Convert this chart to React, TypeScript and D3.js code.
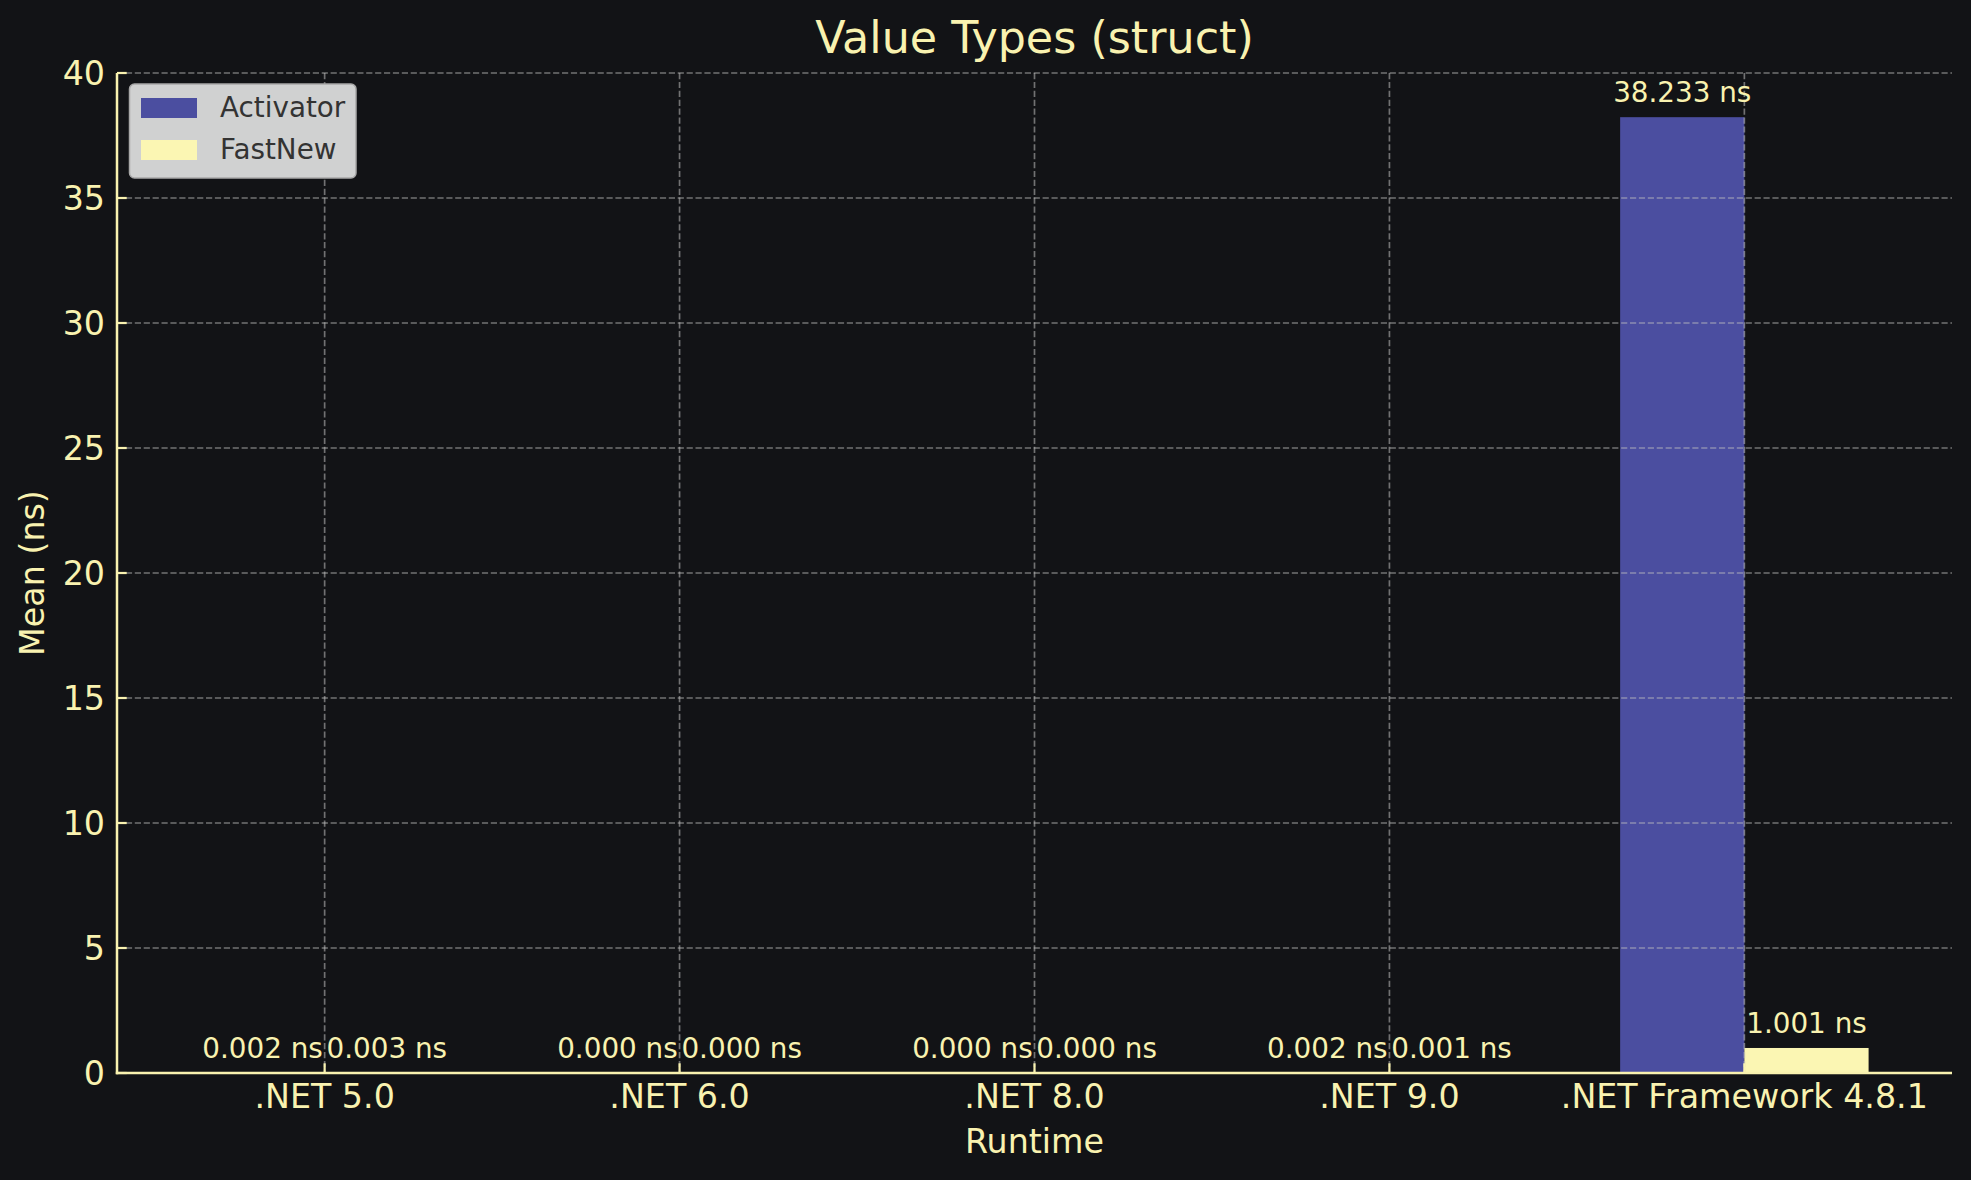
import React, { useEffect } from "react";
import * as d3 from "d3";

const categories = [".NET 5.0", ".NET 6.0", ".NET 8.0", ".NET 9.0", ".NET Framework 4.8.1"];
const seriesNames = ["Activator", "FastNew"];
const activator = [0.002, 0.0, 0.0, 0.002, 38.233];
const fastNew = [0.003, 0.0, 0.0, 0.001, 1.001];
const yTicks = [0, 5, 10, 15, 20, 25, 30, 35, 40];
const seriesColors = ["#4b4ea0", "#fbf6b3"];

const W = 1971;
const H = 1180;
const M = { left: 117, right: 1952, top: 73, bottom: 1073 };
const TEXT = "#f9f2b0";
const FONT = "DejaVu Sans, sans-serif";

export default function App() {
  useEffect(() => {
    document.body.style.margin = "0";
    document.body.style.background = "#121316";
  }, []);

  const barW = 0.35;
  const x = d3.scaleLinear().domain([-0.585, 4.585]).range([M.left, M.right]);
  const y = d3.scaleLinear().domain([0, 40]).range([M.bottom, M.top]);
  const series = [activator, fastNew];
  const offsets = [-barW / 2, barW / 2];

  return (
    <svg width={W} height={H} style={{ display: "block", background: "#121316" }} fontFamily={FONT}>
      <rect x={0} y={0} width={W} height={H} fill="#121316" />
      {/* bars */}
      {series.map((vals, si) =>
        vals.map((v, i) => {
          const cx = i + offsets[si];
          const x0 = x(cx - barW / 2);
          const x1 = x(cx + barW / 2);
          return (
            <rect key={`b${si}-${i}`} x={x0} y={y(v)} width={x1 - x0} height={y(0) - y(v)} fill={seriesColors[si]} />
          );
        })
      )}
      {/* grid */}
      {yTicks.map((t) => (
        <line key={`gy${t}`} x1={M.left} x2={M.right} y1={y(t)} y2={y(t)} stroke="#c0c0c0" strokeOpacity={0.55} strokeWidth={1.7} strokeDasharray="6.2,2.7" />
      ))}
      {categories.map((c, i) => (
        <line key={`gx${i}`} x1={x(i)} x2={x(i)} y1={M.top} y2={M.bottom} stroke="#c0c0c0" strokeOpacity={0.55} strokeWidth={1.7} strokeDasharray="6.2,2.7" />
      ))}
      {/* bar labels */}
      {series.map((vals, si) =>
        vals.map((v, i) => (
          <text key={`l${si}-${i}`} x={x(i + offsets[si])} y={y(v) - 15} textAnchor="middle" fontSize={27.8} fill={TEXT}>
            {v.toFixed(3)} ns
          </text>
        ))
      )}
      {/* spines */}
      <line x1={M.left} x2={M.left} y1={M.top} y2={M.bottom + 1.2} stroke={TEXT} strokeWidth={2.5} />
      <line x1={M.left - 1.2} x2={M.right} y1={M.bottom} y2={M.bottom} stroke={TEXT} strokeWidth={2.5} />
      {/* y ticks */}
      {yTicks.map((t) => (
        <g key={`yt${t}`}>
          <line x1={M.left} x2={M.left + 9.7} y1={y(t)} y2={y(t)} stroke={TEXT} strokeWidth={2.2} />
          <text x={M.left - 12} y={y(t)} dy="0.36em" textAnchor="end" fontSize={33.3} fill={TEXT}>
            {t}
          </text>
        </g>
      ))}
      {/* x ticks */}
      {categories.map((c, i) => (
        <g key={`xt${i}`}>
          <line x1={x(i)} x2={x(i)} y1={M.bottom} y2={M.bottom - 9.7} stroke={TEXT} strokeWidth={2.2} />
          <text x={x(i)} y={1108} textAnchor="middle" fontSize={33.3} fill={TEXT}>
            {c}
          </text>
        </g>
      ))}
      {/* axis labels */}
      <text x={(M.left + M.right) / 2} y={1153} textAnchor="middle" fontSize={33.3} fill={TEXT}>
        Runtime
      </text>
      <text transform={`translate(44, ${(M.top + M.bottom) / 2}) rotate(-90)`} textAnchor="middle" fontSize={33.3} fill={TEXT}>
        Mean (ns)
      </text>
      {/* title */}
      <text x={(M.left + M.right) / 2} y={53} textAnchor="middle" fontSize={44.4} fill={TEXT}>
        Value Types (struct)
      </text>
      {/* legend */}
      <g>
        <rect x={129.5} y={84} width={226.5} height={94} rx={5} fill="#d0d1d1" stroke="#a8a8a8" strokeWidth={1.5} />
        {seriesNames.map((n, i) => (
          <g key={`lg${i}`}>
            <rect x={141} y={98 + i * 42} width={56} height={20} fill={seriesColors[i]} />
            <text x={220} y={117 + i * 42} fontSize={27.8} fill="#333333">
              {n}
            </text>
          </g>
        ))}
      </g>
    </svg>
  );
}
